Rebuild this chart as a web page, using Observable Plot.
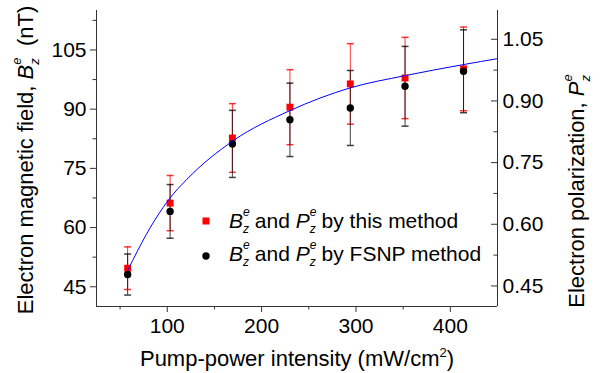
<!DOCTYPE html>
<html><head><meta charset="utf-8">
<script src="https://cdn.jsdelivr.net/npm/d3@7"></script>
<script src="https://cdn.jsdelivr.net/npm/@observablehq/plot@0.6"></script>
<style>
html,body{margin:0;padding:0;background:#fff;}
#chart{width:602px;height:373px;}
text{white-space:pre;}
</style></head>
<body><div id="chart"></div>
<script>
// ---- data ----
const power   = [58, 103, 169, 230, 294, 352, 414];           // mW/cm^2
const bThis   = [49.7, 66.2, 82.7, 90.5, 96.4, 97.9, 100.2];  // nT, this method
const errThis = [5.4, 7.0, 8.7, 9.5, 10.2, 10.3, 10.6];
const bFsnp   = [48.1, 64.1, 81.2, 87.3, 90.3, 95.8, 99.6];   // nT, FSNP method
const errFsnp = [5.2, 6.8, 8.5, 9.3, 9.5, 10.1, 10.5];
const fitX = [58.6, 77.9, 95.6, 102.6, 120.3, 169.8, 229.7, 294, 352.2, 414, 450];
const fitY = [49.4, 58.3, 65.1, 67.4, 72.1, 82.0, 89.6, 95.4, 98.5, 101.3, 102.8];
const xTicks = [100, 200, 300, 400];
const xMinor = [50, 150, 250, 350];
const bTicks = [45, 60, 75, 90, 105];
const bMinor = [52.5, 67.5, 82.5, 97.5, 112.5];
const pTicks = [0.45, 0.60, 0.75, 0.90, 1.05];
const pMinor = [0.525, 0.675, 0.825, 0.975];
const xDomain = [25, 450];
const bDomain = [40, 115];
const pDomain = [0.4, 1.12];
const legendLabels = [" by this method", " by FSNP method"];

// ---- build ----
const W = 602, H = 373, ML = 96, MR = 105, MT = 10, MB = 67;
const plotW = W - ML - MR;
const FF = "'Liberation Sans', Arial, Helvetica, sans-serif";
const AX = "#333";
const toB = d3.scaleLinear().domain(pDomain).range(bDomain);
const rows = power.map((x, i) => ({x, b: bThis[i], e: errThis[i], f: bFsnp[i], fe: errFsnp[i]}));
const fit = fitX.map((x, i) => ({x, y: fitY[i]}));
const cap = {draw(ctx, size) { const h = Math.sqrt(size / Math.PI); ctx.moveTo(-h, 0); ctx.lineTo(h, 0); }};

const plot = Plot.plot({
  width: W, height: H,
  marginLeft: ML, marginRight: MR, marginTop: MT, marginBottom: MB,
  x: {domain: xDomain},
  y: {domain: bDomain},
  style: {fontFamily: FF, fontSize: "21px", color: "#000", background: "#fff"},
  marks: [
    // error bars, this method (red)
    Plot.ruleX(rows, {x: "x", y1: d => d.b - d.e, y2: d => d.b + d.e, stroke: "#ff0000", strokeOpacity: 0.8}),
    Plot.dot(rows, {x: "x", y: d => d.b + d.e, symbol: cap, r: 3.5, stroke: "#ff0000", strokeOpacity: 0.8}),
    Plot.dot(rows, {x: "x", y: d => d.b - d.e, symbol: cap, r: 3.5, stroke: "#ff0000", strokeOpacity: 0.8}),
    // error bars, FSNP (black)
    Plot.ruleX(rows, {x: "x", y1: d => d.f - d.fe, y2: d => d.f + d.fe, stroke: "#000", strokeOpacity: 0.75}),
    Plot.dot(rows, {x: "x", y: d => d.f + d.fe, symbol: cap, r: 3.5, stroke: "#000", strokeOpacity: 0.75}),
    Plot.dot(rows, {x: "x", y: d => d.f - d.fe, symbol: cap, r: 3.5, stroke: "#000", strokeOpacity: 0.75}),
    // markers
    Plot.dot(rows, {x: "x", y: "b", symbol: "square", r: 3.9, fill: "#ff0000"}),
    Plot.dot(rows, {x: "x", y: "f", r: 3.7, fill: "#000"}),
    // fit curve
    Plot.line(fit, {x: "x", y: "y", curve: "monotone-x", stroke: "#0000ff", strokeWidth: 1, clip: true}),
    // axes
    Plot.axisX({ticks: xTicks, tickSize: 6, tickPadding: 6, tickFormat: d3.format("d"), label: null, fontSize: 21, stroke: AX}),
    Plot.axisX({ticks: xMinor, tickSize: 3.5, tickFormat: () => "", label: null, stroke: AX}),
    Plot.axisY({anchor: "left", ticks: bTicks, tickSize: 6, tickPadding: 4, tickFormat: d3.format("d"), label: null, fontSize: 21, stroke: AX}),
    Plot.axisY({anchor: "left", ticks: bMinor, tickSize: 3.5, tickFormat: () => "", label: null, stroke: AX}),
    Plot.axisY({anchor: "right", ticks: pTicks.map(toB), tickSize: 0, tickPadding: 5,
      tickFormat: d => d3.format(".2f")(toB.invert(d)), label: null, fontSize: 21}),
    Plot.tickY(pTicks.map(toB), {y: d => d, insetLeft: plotW - 6, stroke: AX}),
    Plot.tickY(pMinor.map(toB), {y: d => d, insetLeft: plotW - 3.5, stroke: AX}),
    Plot.ruleX(xDomain, {stroke: AX}),
    Plot.ruleY([bDomain[0]], {stroke: AX})
  ]
});
document.getElementById("chart").appendChild(plot);

// ---- rich text (titles + legend) ----
const svg = d3.select(plot);
function rich(sel, fs, segs) {
  const s = Math.round(fs * 0.58);
  let pend = 0;
  for (const seg of segs) {
    if (typeof seg === "string") {
      const t = sel.append("tspan").text(seg);
      if (pend) { t.attr("dy", pend); pend = 0; }
    } else {
      const t = sel.append("tspan").attr("font-style", "italic").text(seg.v);
      if (pend) { t.attr("dy", pend); pend = 0; }
      if (seg.sup) sel.append("tspan").attr("font-style", "italic").attr("font-size", s).attr("dy", -0.55 * fs).text(seg.sup);
      if (seg.sub) {
        sel.append("tspan").attr("font-style", "italic").attr("font-size", s)
          .attr("dx", seg.sup ? -0.556 * s : 0).attr("dy", seg.sup ? 0.8 * fs : 0.25 * fs).text(seg.sub);
        pend = -0.25 * fs;
      } else if (seg.sup) {
        pend = 0.55 * fs;
      }
    }
  }
}
const Bez = {v: "B", sup: "e", sub: "z"};
const Pez = {v: "P", sup: "e", sub: "z"};

// x title
const xt = svg.append("text").attr("x", 297).attr("y", 366).attr("text-anchor", "middle")
  .attr("font-size", 22).attr("font-family", FF).attr("fill", "#000");
xt.append("tspan").text("Pump-power intensity (mW/cm");
xt.append("tspan").attr("font-size", 13).attr("dy", -9).text("2");
xt.append("tspan").attr("dy", 9).text(")");

// left title
const lt = svg.append("text").attr("transform", "translate(33,160) rotate(-90)").attr("text-anchor", "middle")
  .attr("font-size", 22).attr("font-family", FF).attr("fill", "#000");
rich(lt, 22, ["Electron magnetic field, ", Bez, "  (nT)"]);

// right title
const rt = svg.append("text").attr("transform", "translate(584,191) rotate(-90)").attr("text-anchor", "middle")
  .attr("font-size", 22).attr("font-family", FF).attr("fill", "#000");
rich(rt, 22, ["Electron polarization, ", Pez]);

// legend
const lg = svg.append("g").attr("font-family", FF).attr("font-size", 21).attr("fill", "#000").attr("text-anchor", "start");
lg.append("rect").attr("x", 202.5).attr("y", 217.5).attr("width", 7).attr("height", 7).attr("fill", "#ff0000");
lg.append("circle").attr("cx", 206).attr("cy", 256).attr("r", 3.7).attr("fill", "#000");
const l1 = lg.append("text").attr("x", 229).attr("y", 228).attr("text-anchor", "start");
rich(l1, 21, [Bez, " and ", Pez, legendLabels[0]]);
const l2 = lg.append("text").attr("x", 229).attr("y", 261).attr("text-anchor", "start");
rich(l2, 21, [Bez, " and ", Pez, legendLabels[1]]);
</script>
</body></html>
